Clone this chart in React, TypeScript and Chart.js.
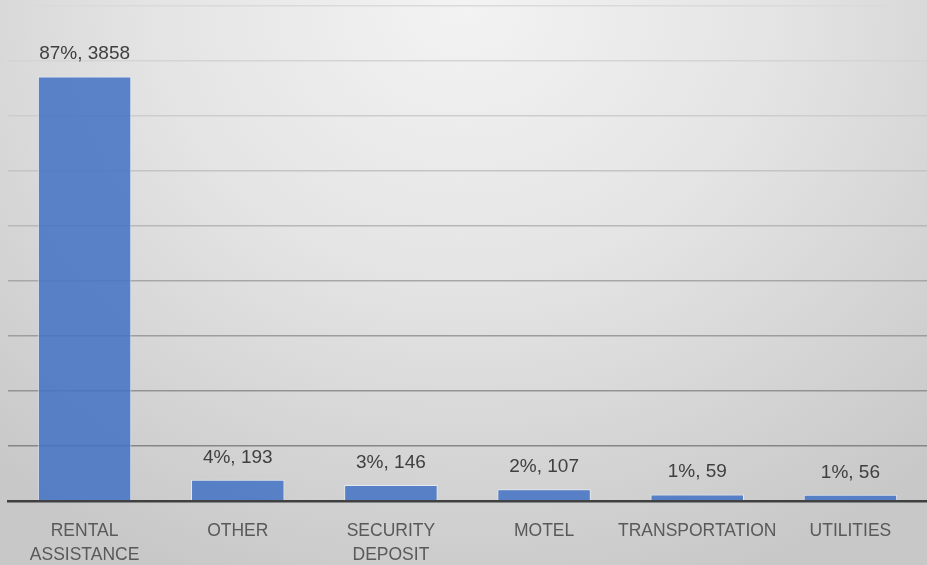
import React, { useEffect, useRef } from "react";
import { Chart, registerables } from "chart.js";

Chart.register(...registerables);

const categories: string[][] = [
  ["RENTAL", "ASSISTANCE"],
  ["OTHER"],
  ["SECURITY", "DEPOSIT"],
  ["MOTEL"],
  ["TRANSPORTATION"],
  ["UTILITIES"],
];
const counts: number[] = [3858, 193, 146, 107, 59, 56];
const percents: number[] = [87, 4, 3, 2, 1, 1];
const yMax = 4500;
const yStep = 500;

// gridline shades from bottom (500) to top (4500)
const gridShades: string[] = [
  "#868686", "#939393", "#9d9d9d", "#a7a7a7", "#b8b8b8", "#c4c4c4", "#cdcdcd", "#d4d4d4", "#dadada",
];

const labelPlugin = {
  id: "barLabels",
  afterDatasetsDraw(chart: any) {
    const ctx = chart.ctx;
    const meta = chart.getDatasetMeta(0);
    ctx.save();
    ctx.font = '19px "Liberation Sans", Arial, sans-serif';
    ctx.fillStyle = "#404040";
    ctx.textAlign = "center";
    ctx.textBaseline = "middle";
    meta.data.forEach((bar: any, i: number) => {
      ctx.fillText(`${percents[i]}%, ${counts[i]}`, bar.x, bar.y - 22.5);
    });
    ctx.restore();
  },
};

export default function App() {
  const ref = useRef<HTMLCanvasElement | null>(null);
  useEffect(() => {
    if (!ref.current) return;
    const chart = new Chart(ref.current, {
      type: "bar",
      data: {
        labels: categories,
        datasets: [
          {
            data: counts,
            backgroundColor: "rgba(68,114,196,0.86)",
            borderColor: "rgba(235,242,252,0.75)",
            borderWidth: 1,
            categoryPercentage: 1,
            barPercentage: 0.61,
          },
        ],
      },
      options: {
        responsive: false,
        animation: false,
        devicePixelRatio: 1,
        layout: { padding: { left: 8, top: 6, right: 0, bottom: 0 } },
        plugins: {
          legend: { display: false },
          tooltip: { enabled: false },
          title: { display: false },
        },
        scales: {
          x: {
            grid: { display: false, drawTicks: false },
            border: { display: true, color: "#404040", width: 2.5 },
            ticks: {
              color: "#595959",
              font: { family: '"Liberation Sans", Arial, sans-serif', size: 17.5, lineHeight: 1.37 },
              padding: 18,
              maxRotation: 0,
              autoSkip: false,
            },
            afterFit: (s: any) => {
              s.height = 64;
            },
          },
          y: {
            min: 0,
            max: yMax,
            ticks: { display: false, stepSize: yStep },
            border: { display: false },
            grid: {
              drawTicks: false,
              lineWidth: 1.6,
              color: (c: any) => {
                const idx = Math.round(c.tick.value / yStep) - 1;
                if (idx < 0) return "rgba(0,0,0,0)";
                return gridShades[Math.min(idx, gridShades.length - 1)];
              },
            },
            afterFit: (s: any) => {
              s.width = 0;
            },
          },
        },
      },
      plugins: [labelPlugin],
    });
    return () => chart.destroy();
  }, []);
  return (
    <div
      style={{
        position: "absolute",
        left: 0,
        top: 0,
        width: 927,
        height: 565,
        background:
          "radial-gradient(ellipse 75% 110% at 50% 0%, #f3f3f3 0%, #e4e4e4 45%, #d2d2d2 80%, #c8c8c8 100%)",
      }}
    >
      <canvas ref={ref} width={927} height={565} style={{ display: "block" }} />
    </div>
  );
}
